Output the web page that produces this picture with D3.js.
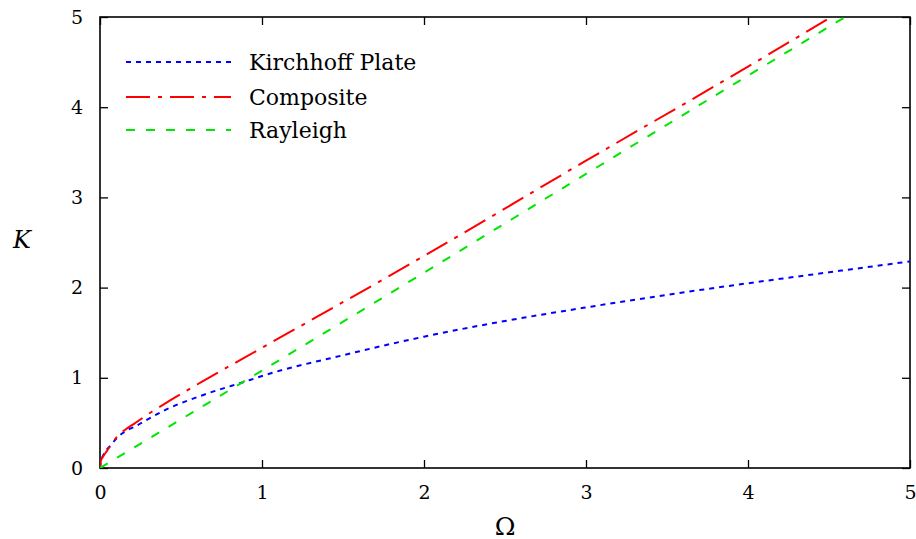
<!DOCTYPE html>
<html>
<head>
<meta charset="utf-8">
<script src="https://cdn.jsdelivr.net/npm/d3@7"></script>
<style>
  html, body { margin: 0; padding: 0; background: #fff; }
  svg { display: block; }
  text { font-family: "DejaVu Serif", "DejaVu Sans", serif; fill: #000; }
</style>
</head>
<body>
<svg id="chart" width="916" height="539"></svg>
<script>
// ---- data ----
const kirchhoffOmega = [0, 0.005, 0.02, 0.068, 0.103, 0.18, 0.206, 0.284, 0.41, 0.638, 0.926, 1, 1.5, 2, 2.5, 3, 3.5, 4, 4.5, 5];
const kirchhoffK     = [0, 0.07, 0.14, 0.255, 0.329, 0.43, 0.45, 0.53, 0.65, 0.81, 0.976, 1.02, 1.25, 1.456, 1.63, 1.78, 1.92, 2.048, 2.17, 2.29];

const compositeOmega = [0, 0.005, 0.02, 0.043, 0.08, 0.115, 0.16, 0.21, 0.32, 0.43, 0.63, 1, 2, 3, 4, 4.55];
const compositeK     = [0, 0.08, 0.13, 0.19, 0.29, 0.366, 0.43, 0.49, 0.624, 0.746, 0.957, 1.333, 2.35, 3.407, 4.45, 5.04];

const rayleighOmega = [0, 1, 2, 3, 4, 4.6];
const rayleighK     = [0, 1.08, 2.165, 3.26, 4.35, 5.0];

const xTicks = [0, 1, 2, 3, 4, 5];
const yTicks = [0, 1, 2, 3, 4, 5];

const seriesNames  = ["Kirchhoff Plate", "Composite", "Rayleigh"];
const seriesColors = ["#0000ff", "#ff0000", "#00e600"];
const seriesDash   = ["5,5", "24,8,4,8", "9,11"];

// ---- layout ----
const svg = d3.select("#chart");
const pLeft = 100, pRight = 910, pTop = 17, pBottom = 468;
const serif = "'DejaVu Serif', 'DejaVu Sans', serif";

const x = d3.scaleLinear().domain([0, 5]).range([pLeft, pRight]);
const y = d3.scaleLinear().domain([0, 5]).range([pBottom, pTop]);

svg.append("defs").append("clipPath").attr("id", "plotclip")
  .append("rect").attr("x", pLeft).attr("y", pTop)
  .attr("width", pRight - pLeft).attr("height", pBottom - pTop);

// axes with inward ticks (mirrored)
const fontSize = 19;
const axB = svg.append("g").attr("transform", `translate(0,${pBottom})`)
  .call(d3.axisBottom(x).tickValues(xTicks).tickFormat(d3.format("d")).tickSizeInner(-8).tickSizeOuter(0).tickPadding(18));
const axT = svg.append("g").attr("transform", `translate(0,${pTop})`)
  .call(d3.axisTop(x).tickValues(xTicks).tickFormat("").tickSizeInner(-8).tickSizeOuter(0));
const axL = svg.append("g").attr("transform", `translate(${pLeft},0)`)
  .call(d3.axisLeft(y).tickValues(yTicks).tickFormat(d3.format("d")).tickSizeInner(-8).tickSizeOuter(0).tickPadding(18));
const axR = svg.append("g").attr("transform", `translate(${pRight},0)`)
  .call(d3.axisRight(y).tickValues(yTicks).tickFormat("").tickSizeInner(-8).tickSizeOuter(0));

[axB, axT, axL, axR].forEach(g => {
  g.attr("font-family", serif);
  g.select(".domain").remove();
  g.selectAll(".tick line").attr("stroke", "#000").attr("stroke-width", 1.3);
  g.selectAll("text").attr("font-family", serif).style("font-size", fontSize + "px").attr("fill", "#000");
});
axB.selectAll("text").attr("dy", "0.71em").attr("y", 18);
axL.selectAll("text").attr("x", -17);

// border box
svg.append("rect").attr("x", pLeft).attr("y", pTop)
  .attr("width", pRight - pLeft).attr("height", pBottom - pTop)
  .attr("fill", "none").attr("stroke", "#000").attr("stroke-width", 1.6);

// axis titles
svg.append("text").attr("x", 505).attr("y", 526)
  .attr("text-anchor", "middle").attr("dominant-baseline", "central")
  .attr("font-family", serif).style("font-size", "25px").text("Ω");
svg.append("text").attr("x", 22).attr("y", 240)
  .attr("text-anchor", "middle").attr("dominant-baseline", "central")
  .attr("font-family", serif).style("font-size", "24px").style("font-style", "italic").text("K");

// series
const line = d3.line().x(d => x(d[0])).y(d => y(d[1])).curve(d3.curveMonotoneX);
const seriesData = [
  d3.zip(kirchhoffOmega, kirchhoffK),
  d3.zip(compositeOmega, compositeK),
  d3.zip(rayleighOmega, rayleighK)
];
const plot = svg.append("g").attr("clip-path", "url(#plotclip)");
seriesData.forEach((pts, i) => {
  plot.append("path").datum(pts)
    .attr("d", line)
    .attr("fill", "none")
    .attr("stroke", seriesColors[i])
    .attr("stroke-width", 2)
    .attr("stroke-dasharray", seriesDash[i]);
});

// legend
const legY = [62, 97, 130];
seriesNames.forEach((name, i) => {
  svg.append("line")
    .attr("x1", 126).attr("x2", 231)
    .attr("y1", legY[i]).attr("y2", legY[i])
    .attr("stroke", seriesColors[i]).attr("stroke-width", 2)
    .attr("stroke-dasharray", seriesDash[i]);
  svg.append("text").attr("x", 249).attr("y", legY[i])
    .attr("dominant-baseline", "central")
    .attr("font-family", serif)
    .style("font-size", "22px")
    .text(name);
});
</script>
</body>
</html>
